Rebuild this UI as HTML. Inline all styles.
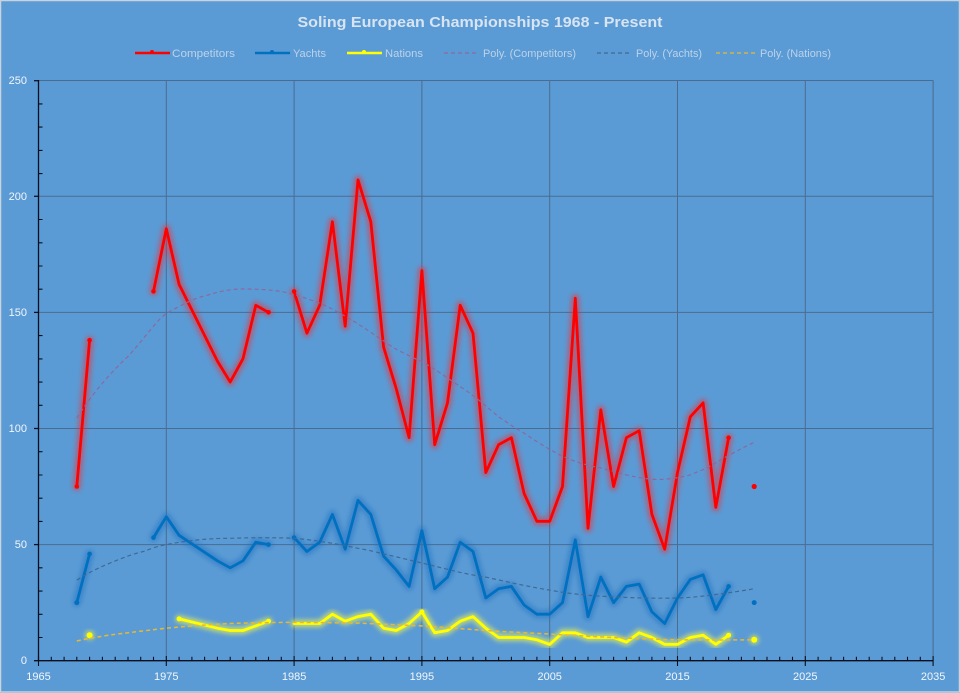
<!DOCTYPE html>
<html><head><meta charset="utf-8"><style>
html,body{margin:0;padding:0;background:#5B9BD5;}
svg{display:block;}
text{font-family:"Liberation Sans",sans-serif;}
</style></head><body>
<svg width="960" height="693" viewBox="0 0 960 693" xmlns="http://www.w3.org/2000/svg">
<defs>
<filter id="glow" x="-10%" y="-10%" width="120%" height="120%"><feGaussianBlur stdDeviation="2.2"/></filter>
</defs>
<rect x="0" y="0" width="960" height="693" fill="#5B9BD5"/>
<rect x="0.5" y="0.5" width="959" height="691.5" fill="none" stroke="#C9D3DD" stroke-width="1.5"/>

<!-- title -->
<text x="480" y="27" text-anchor="middle" font-size="14.5" font-weight="bold" fill="#D8E4F1" textLength="365" lengthAdjust="spacingAndGlyphs">Soling European Championships 1968 - Present</text>

<!-- legend -->
<g font-size="11" fill="#BCD2E9">
<line x1="135" y1="53" x2="170" y2="53" stroke="#FF0000" stroke-width="2.5"/><circle cx="152" cy="52" r="2" fill="#FF0000"/>
<text x="172" y="57" textLength="63" lengthAdjust="spacingAndGlyphs">Competitors</text>
<line x1="255" y1="53" x2="290" y2="53" stroke="#0070C0" stroke-width="2.5"/><circle cx="272" cy="52" r="2" fill="#0070C0"/>
<text x="293" y="57" textLength="33" lengthAdjust="spacingAndGlyphs">Yachts</text>
<line x1="347" y1="53" x2="382" y2="53" stroke="#FFFF00" stroke-width="2.5"/><circle cx="364" cy="52" r="2" fill="#FFFF00"/>
<text x="385" y="57" textLength="38" lengthAdjust="spacingAndGlyphs">Nations</text>
<line x1="444" y1="53" x2="479" y2="53" stroke="#8A6A9E" stroke-width="1.2" stroke-dasharray="4,3"/>
<text x="483" y="57" textLength="93" lengthAdjust="spacingAndGlyphs">Poly. (Competitors)</text>
<line x1="597" y1="53" x2="632" y2="53" stroke="#3E6A96" stroke-width="1.2" stroke-dasharray="4,3"/>
<text x="636" y="57" textLength="66" lengthAdjust="spacingAndGlyphs">Poly. (Yachts)</text>
<line x1="716" y1="53" x2="757" y2="53" stroke="#E8B830" stroke-width="1.2" stroke-dasharray="4,3"/>
<text x="760" y="57" textLength="71" lengthAdjust="spacingAndGlyphs">Poly. (Nations)</text>
</g>

<!-- gridlines -->
<g stroke="#4A6C90" stroke-width="1">
<line x1="38.5" y1="80.5" x2="933.3" y2="80.5"/>
<line x1="38.5" y1="196.3" x2="933.3" y2="196.3"/>
<line x1="38.5" y1="312.4" x2="933.3" y2="312.4"/>
<line x1="38.5" y1="428.5" x2="933.3" y2="428.5"/>
<line x1="38.5" y1="544.6" x2="933.3" y2="544.6"/>
<line x1="166.3" y1="80.5" x2="166.3" y2="660.7"/>
<line x1="294.1" y1="80.5" x2="294.1" y2="660.7"/>
<line x1="421.9" y1="80.5" x2="421.9" y2="660.7"/>
<line x1="549.7" y1="80.5" x2="549.7" y2="660.7"/>
<line x1="677.5" y1="80.5" x2="677.5" y2="660.7"/>
<line x1="805.3" y1="80.5" x2="805.3" y2="660.7"/>
<line x1="933.1" y1="80.5" x2="933.1" y2="660.7"/>
</g>

<!-- axes -->
<g stroke="#0A0F1E" stroke-width="1.3">
<line x1="38.5" y1="80" x2="38.5" y2="661"/>
<line x1="34" y1="660.7" x2="933.5" y2="660.7"/>
<!-- y major ticks -->
<line x1="34" y1="80.7" x2="38.5" y2="80.7"/>
<line x1="34" y1="196.3" x2="38.5" y2="196.3"/>
<line x1="34" y1="312.4" x2="38.5" y2="312.4"/>
<line x1="34" y1="428.5" x2="38.5" y2="428.5"/>
<line x1="34" y1="544.6" x2="38.5" y2="544.6"/>
</g>
<g stroke="#0A0F1E" stroke-width="1.1">
<!-- y minor ticks every 10 -->
<path d="M38.5 103.9h4M38.5 127.1h4M38.5 150.4h4M38.5 173.6h4M38.5 219.5h4M38.5 242.8h4M38.5 266h4M38.5 289.2h4M38.5 335.6h4M38.5 358.9h4M38.5 382.1h4M38.5 405.3h4M38.5 451.7h4M38.5 475h4M38.5 498.2h4M38.5 521.4h4M38.5 567.8h4M38.5 591.1h4M38.5 614.3h4M38.5 637.5h4"/>
<!-- x minor ticks every year -->
<path d="M51.3 660.7v-4M64.1 660.7v-4M76.8 660.7v-4M89.6 660.7v-4M102.4 660.7v-4M115.2 660.7v-4M128 660.7v-4M140.7 660.7v-4M153.5 660.7v-4M179.1 660.7v-4M191.9 660.7v-4M204.6 660.7v-4M217.4 660.7v-4M230.2 660.7v-4M243 660.7v-4M255.8 660.7v-4M268.5 660.7v-4M281.3 660.7v-4M306.9 660.7v-4M319.7 660.7v-4M332.4 660.7v-4M345.2 660.7v-4M358 660.7v-4M370.8 660.7v-4M383.6 660.7v-4M396.3 660.7v-4M409.1 660.7v-4M434.7 660.7v-4M447.5 660.7v-4M460.2 660.7v-4M473 660.7v-4M485.8 660.7v-4M498.6 660.7v-4M511.4 660.7v-4M524.1 660.7v-4M536.9 660.7v-4M562.5 660.7v-4M575.3 660.7v-4M588 660.7v-4M600.8 660.7v-4M613.6 660.7v-4M626.4 660.7v-4M639.2 660.7v-4M651.9 660.7v-4M664.7 660.7v-4M690.3 660.7v-4M703.1 660.7v-4M715.8 660.7v-4M728.6 660.7v-4M741.4 660.7v-4M754.2 660.7v-4M767 660.7v-4M779.7 660.7v-4M792.5 660.7v-4M818.1 660.7v-4M830.9 660.7v-4M843.6 660.7v-4M856.4 660.7v-4M869.2 660.7v-4M882 660.7v-4M894.8 660.7v-4M907.5 660.7v-4M920.3 660.7v-4"/>
<!-- x major ticks -->
<path d="M38.5 656v10M166.3 656v10M294.1 656v10M421.9 656v10M549.7 656v10M677.5 656v10M805.3 656v10M933.1 656v10"/>
</g>

<!-- axis labels -->
<g font-size="11" fill="#F2F6FB">
<text x="27" y="84" text-anchor="end">250</text>
<text x="27" y="200" text-anchor="end">200</text>
<text x="27" y="316" text-anchor="end">150</text>
<text x="27" y="432" text-anchor="end">100</text>
<text x="27" y="548" text-anchor="end">50</text>
<text x="27" y="664" text-anchor="end">0</text>
<text x="38.5" y="680" text-anchor="middle">1965</text>
<text x="166.3" y="680" text-anchor="middle">1975</text>
<text x="294.1" y="680" text-anchor="middle">1985</text>
<text x="421.9" y="680" text-anchor="middle">1995</text>
<text x="549.7" y="680" text-anchor="middle">2005</text>
<text x="677.5" y="680" text-anchor="middle">2015</text>
<text x="805.3" y="680" text-anchor="middle">2025</text>
<text x="933.1" y="680" text-anchor="middle">2035</text>
</g>

<!-- ===== Nations ===== -->
<g fill="none" stroke-linejoin="round" stroke-linecap="round">
<g id="natglow" stroke="#FFFF40" stroke-width="8" opacity="0.55" filter="url(#glow)">
<polyline points="179.1,618.9 217.4,628.2 230.2,630.5 243,630.5 255.8,625.9 268.5,621.2"/>
<polyline points="294.1,623.5 306.9,623.5 319.7,623.5 332.4,614.2 345.2,621.2 358,616.6 370.8,614.2 383.6,628.2 396.3,630.5 409.1,623.5 421.9,611.9 434.7,632.8 447.5,630.5 460.2,621.2 473,616.6 485.8,628.2 498.6,637.5 511.4,637.5 524.1,637.5 536.9,639.8 549.7,644.4 562.5,632.8 575.3,632.8 588,637.5 600.8,637.5 613.6,637.5 626.4,642.1 639.2,632.8 651.9,637.5 664.7,644.4 677.5,644.4 690.3,637.5 703.1,635.2 715.8,644.4 728.6,635.2"/>
</g>
<g stroke="#FFFF00" stroke-width="2.8">
<polyline points="179.1,618.9 217.4,628.2 230.2,630.5 243,630.5 255.8,625.9 268.5,621.2"/>
<polyline points="294.1,623.5 306.9,623.5 319.7,623.5 332.4,614.2 345.2,621.2 358,616.6 370.8,614.2 383.6,628.2 396.3,630.5 409.1,623.5 421.9,611.9 434.7,632.8 447.5,630.5 460.2,621.2 473,616.6 485.8,628.2 498.6,637.5 511.4,637.5 524.1,637.5 536.9,639.8 549.7,644.4 562.5,632.8 575.3,632.8 588,637.5 600.8,637.5 613.6,637.5 626.4,642.1 639.2,632.8 651.9,637.5 664.7,644.4 677.5,644.4 690.3,637.5 703.1,635.2 715.8,644.4 728.6,635.2"/>
</g>
</g>
<g fill="#FFFF40" opacity="0.5" filter="url(#glow)"><circle cx="89.6" cy="635.2" r="5"/><circle cx="754.2" cy="639.8" r="5"/></g>
<g fill="#FFFF00"><circle cx="89.6" cy="635.2" r="3"/><circle cx="754.2" cy="639.8" r="3"/><circle cx="179.1" cy="618.9" r="2.5"/><circle cx="268.5" cy="621.2" r="2.5"/><circle cx="421.9" cy="611.9" r="2.5"/><circle cx="728.6" cy="635.2" r="2.5"/></g>

<!-- ===== Yachts ===== -->
<g fill="none" stroke-linejoin="round" stroke-linecap="round">
<g stroke="#1A6FC0" stroke-width="9" opacity="0.45" filter="url(#glow)">
<polyline points="76.8,602.6 89.6,553.9"/>
<polyline points="153.5,537.6 166.3,516.7 179.1,535.3 217.4,560.8 230.2,567.8 243,560.8 255.8,542.2 268.5,544.6"/>
<polyline points="294.1,537.6 306.9,551.5 319.7,542.2 332.4,514.4 345.2,549.2 358,500.4 370.8,514.4 383.6,556.2 396.3,570.1 409.1,586.4 421.9,530.6 434.7,588.7 447.5,577.1 460.2,542.2 473,551.5 485.8,598 498.6,588.7 511.4,586.4 524.1,605 536.9,614.2 549.7,614.2 562.5,602.6 575.3,539.9 588,616.6 600.8,577.1 613.6,602.6 626.4,586.4 639.2,584.1 651.9,611.9 664.7,623.5 677.5,598 690.3,579.4 703.1,574.8 715.8,609.6 728.6,586.4"/>
</g>
<g stroke="#0070C0" stroke-width="2.8">
<polyline points="76.8,602.6 89.6,553.9"/>
<polyline points="153.5,537.6 166.3,516.7 179.1,535.3 217.4,560.8 230.2,567.8 243,560.8 255.8,542.2 268.5,544.6"/>
<polyline points="294.1,537.6 306.9,551.5 319.7,542.2 332.4,514.4 345.2,549.2 358,500.4 370.8,514.4 383.6,556.2 396.3,570.1 409.1,586.4 421.9,530.6 434.7,588.7 447.5,577.1 460.2,542.2 473,551.5 485.8,598 498.6,588.7 511.4,586.4 524.1,605 536.9,614.2 549.7,614.2 562.5,602.6 575.3,539.9 588,616.6 600.8,577.1 613.6,602.6 626.4,586.4 639.2,584.1 651.9,611.9 664.7,623.5 677.5,598 690.3,579.4 703.1,574.8 715.8,609.6 728.6,586.4"/>
</g>
</g>
<g fill="#0070C0"><circle cx="754.2" cy="602.6" r="2.5"/><circle cx="76.8" cy="602.6" r="2.5"/><circle cx="89.6" cy="553.9" r="2.3"/><circle cx="153.5" cy="537.6" r="2.3"/><circle cx="268.5" cy="544.6" r="2.3"/><circle cx="294.1" cy="537.6" r="2.3"/><circle cx="728.6" cy="586.4" r="2.3"/></g>

<!-- ===== Competitors ===== -->
<g fill="none" stroke-linejoin="round" stroke-linecap="round">
<g stroke="#FF2020" stroke-width="9" opacity="0.42" filter="url(#glow)">
<polyline points="76.8,486.5 89.6,340.2"/>
<polyline points="153.5,291.4 166.3,228.7 179.1,284.4 217.4,361.1 230.2,382 243,358.7 255.8,305.3 268.5,312.3"/>
<polyline points="294.1,291.4 306.9,333.2 319.7,305.3 332.4,221.7 345.2,326.2 358,179.9 370.8,221.7 383.6,347.1 396.3,388.9 409.1,437.7 421.9,270.5 434.7,444.7 447.5,402.9 460.2,305.3 473,333.2 485.8,472.6 498.6,444.7 511.4,437.7 524.1,493.5 536.9,521.3 549.7,521.3 562.5,486.5 575.3,298.3 588,528.3 600.8,409.8 613.6,486.5 626.4,437.7 639.2,430.7 651.9,514.4 664.7,549.2 677.5,472.6 690.3,416.8 703.1,402.9 715.8,507.4 728.6,437.7"/>
</g>
<g stroke="#FF0000" stroke-width="2.8">
<polyline points="76.8,486.5 89.6,340.2"/>
<polyline points="153.5,291.4 166.3,228.7 179.1,284.4 217.4,361.1 230.2,382 243,358.7 255.8,305.3 268.5,312.3"/>
<polyline points="294.1,291.4 306.9,333.2 319.7,305.3 332.4,221.7 345.2,326.2 358,179.9 370.8,221.7 383.6,347.1 396.3,388.9 409.1,437.7 421.9,270.5 434.7,444.7 447.5,402.9 460.2,305.3 473,333.2 485.8,472.6 498.6,444.7 511.4,437.7 524.1,493.5 536.9,521.3 549.7,521.3 562.5,486.5 575.3,298.3 588,528.3 600.8,409.8 613.6,486.5 626.4,437.7 639.2,430.7 651.9,514.4 664.7,549.2 677.5,472.6 690.3,416.8 703.1,402.9 715.8,507.4 728.6,437.7"/>
</g>
</g>
<g fill="#FF0000"><circle cx="754.2" cy="486.5" r="2.6"/><circle cx="76.8" cy="486.5" r="2.3"/><circle cx="89.6" cy="340.2" r="2.3"/><circle cx="153.5" cy="291.4" r="2.3"/><circle cx="268.5" cy="312.3" r="2.3"/><circle cx="294.1" cy="291.4" r="2.3"/><circle cx="728.6" cy="437.7" r="2.3"/></g>

<!-- ===== Trendlines ===== -->
<g fill="none" stroke-width="1.2" stroke-dasharray="4,3">
<path stroke="#8A6A9E" d="M76.8,418.1 C90,397 108,375 128,356.4 C145,338 155,322 166.3,313.4 C185,303 195,298 204.6,296 C220,291 232,289 243,289 C260,289 272,290 281.3,291.4 C298,295 308,299 319.7,303 C335,310 347,317 358,323.9 C372,333 385,342 396.3,349.4 C408,355 415,359 421.9,361.7 C437,370 450,380 460.2,386.6 C475,396 488,408 498.6,416.8 C508,423 516,429 524.1,433.1 C540,444 552,451 562.5,456.3 C578,463 590,466 600.8,467.9 C612,471 620,473 626.4,474.9 C640,478 650,479.5 660,479.5 C672,479 682,477 690.3,474.9 C697,472 702,470 707,467.9 C715,463 721,460 727,456.3 C737,451 746,446 754.2,442.3"/>
<path stroke="#3E6A96" d="M76.8,580.1 C88,573 98,568 110,563.1 C122,558 133,554 143.3,551.5 C150,549 158,546 166.3,544.6 C190,540 210,538.3 230.2,538.3 C255,537.5 275,537.5 294.1,538.3 C315,540 338,544 358,548.3 C368,550 376,552 383.6,553.9 C410,560 438,567 460.2,572.4 C470,574.5 478,576 485.8,577.1 C508,582 530,587 549.7,590.1 C570,594 592,596 613.6,596.8 C635,598 657,598.5 677.5,598 C692,597.5 705,596 715.8,594.5 C730,592.5 742,591 754.2,588.7"/>
<path stroke="#E8B830" stroke-width="1.5" d="M76.8,641 C95,637 112,634.5 128,632.8 C142,631 155,629.5 166.3,628.2 C190,626 210,624.5 230.2,623.5 C255,622.7 275,622.4 294.1,622.4 C318,622.5 338,622.8 358,623.1 C380,624 400,625 421.9,625.9 C445,627.5 465,629 485.8,630.5 C507,631.8 528,633 549.7,634 C572,635.5 592,636.5 613.6,637.5 C635,638.5 657,639.5 677.5,639.8 C705,640 730,640 754.2,639.8"/>
</g>
</svg>
</body></html>
